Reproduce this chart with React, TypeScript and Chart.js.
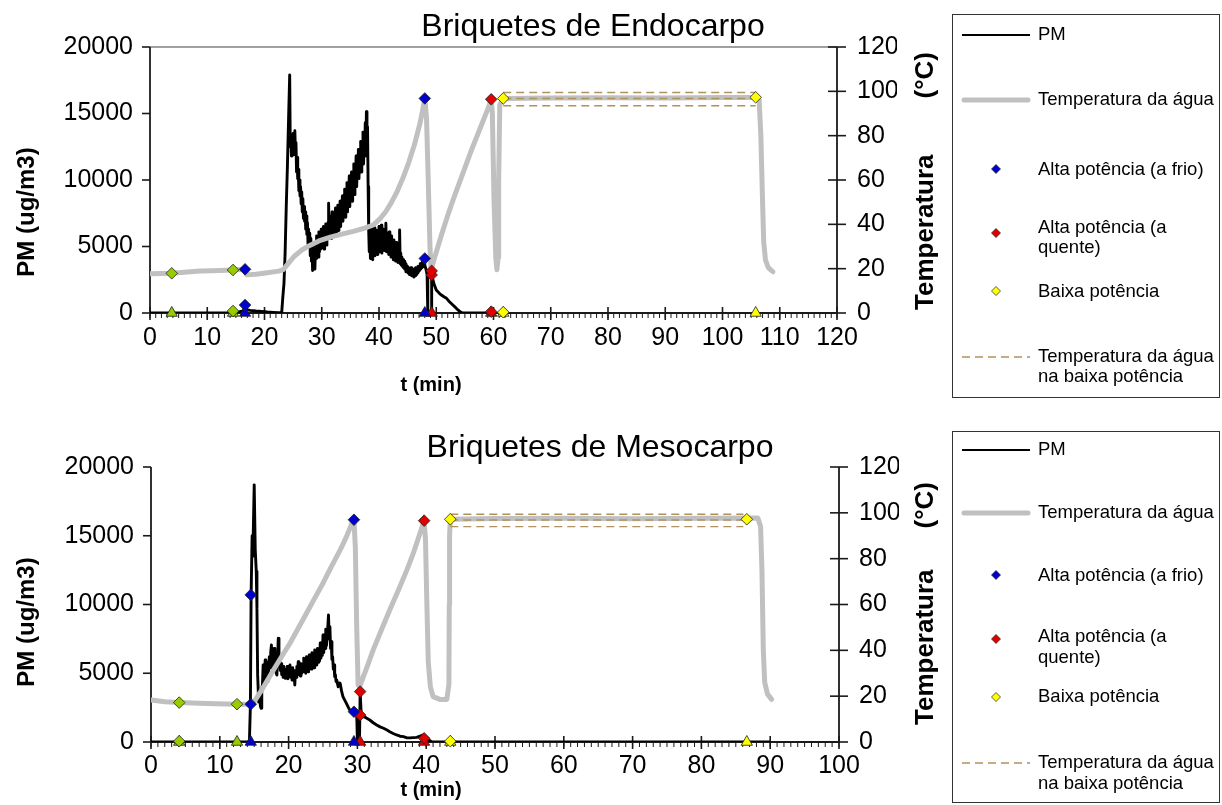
import React, { useEffect, useRef } from "react";
import { Chart, registerables } from "chart.js";

Chart.register(...registerables);

// ================= DATA : Briquetes de Endocarpo =================
const endoTitle = "Briquetes de Endocarpo";
const endoTimeTicks = [0, 10, 20, 30, 40, 50, 60, 70, 80, 90, 100, 110, 120];
const pmTicks = [0, 5000, 10000, 15000, 20000];
const tempTicks = [0, 20, 40, 60, 80, 100, 120];

// PM (ug/m3) vs t (min)
const endoPm: [number, number][] = [
  [0, 0], [14.0, 0], [14.5, 100], [15.5, 80], [16.3, 150], [16.6, 600], [16.9, 250], [17.5, 200],
  [18.5, 150], [19.5, 120], [20.5, 80], [21.5, 50], [22.5, 20], [23.0, 0], [23.2, 1200], [23.4, 2200],
  [23.6, 4500], [23.8, 8000], [24.0, 11000], [24.2, 14500], [24.4, 17900],
  [24.5, 12500], [24.6, 13400], [24.7, 11800], [24.8, 12900], [24.9, 12300], [25.0, 13500], [25.1, 11900],
  [25.2, 13100], [25.3, 13700], [25.4, 12200], [25.5, 12800], [25.6, 10600], [25.7, 11700], [25.8, 10100],
  [25.9, 10800], [26.0, 9200], [26.1, 10000], [26.2, 8800], [26.3, 9500], [26.4, 8200], [26.5, 9100],
  [26.6, 7600], [26.7, 8600], [26.8, 7100], [26.9, 8000], [27.0, 6900], [27.1, 7600], [27.2, 6300],
  [27.3, 7300], [27.4, 5900], [27.5, 6800], [27.6, 5200], [27.7, 6300], [27.8, 4900], [27.9, 6000],
  [28.0, 4300], [28.1, 5600], [28.2, 3900], [28.3, 5100], [28.4, 3200], [28.5, 4700], [28.6, 3600],
  [28.7, 5300], [28.8, 3300], [28.9, 4900], [29.0, 4100], [29.1, 5800], [29.2, 4400], [29.3, 5400],
  [29.4, 4200], [29.5, 6100], [29.6, 4600], [29.7, 5600], [29.8, 4800], [29.9, 6300], [30.0, 4900],
  [30.1, 5700], [30.2, 5200], [30.3, 6500], [30.4, 4800], [30.5, 6000], [30.6, 5300], [30.7, 6700],
  [30.8, 5100], [30.9, 6200], [31.0, 5600], [31.1, 6800], [31.2, 8250], [31.3, 5700], [31.4, 7300],
  [31.5, 5900], [31.6, 6700], [31.7, 5600], [31.8, 7600], [31.9, 6100], [32.0, 6900], [32.1, 5800],
  [32.2, 7400], [32.3, 6300], [32.4, 7900], [32.5, 6000], [32.6, 7200], [32.7, 6500], [32.8, 8100],
  [32.9, 6200], [33.0, 7500], [33.1, 6800], [33.2, 8400], [33.3, 6500], [33.4, 7900], [33.5, 7000],
  [33.6, 8800], [33.7, 6900], [33.8, 8300], [33.9, 7400], [34.0, 9300], [34.1, 7200], [34.2, 8700],
  [34.3, 7800], [34.4, 9800], [34.5, 7600], [34.6, 9100], [34.7, 8200], [34.8, 10300], [34.9, 8000],
  [35.0, 9600], [35.1, 8700], [35.2, 10600], [35.3, 8400], [35.4, 10100], [35.5, 9200], [35.6, 11200],
  [35.7, 8900], [35.8, 10600], [35.9, 9700], [36.0, 11800], [36.1, 9500], [36.2, 11100], [36.3, 10300],
  [36.4, 12300], [36.5, 10100], [36.6, 11700], [36.7, 10800], [36.8, 12900], [36.9, 10600], [37.0, 12300],
  [37.1, 11400], [37.2, 13600], [37.3, 11200], [37.4, 13000], [37.5, 12000], [37.6, 14300], [37.7, 11800],
  [37.8, 15140], [37.9, 12600], [38.0, 14000], [38.1, 9500], [38.2, 6200], [38.3, 4600], [38.4, 6500],
  [38.5, 4100], [38.6, 5800], [38.7, 4500], [38.8, 6300], [38.9, 4000], [39.0, 5600], [39.1, 4700],
  [39.2, 6400], [39.3, 4300], [39.4, 5900], [39.5, 4800], [39.6, 6200], [39.7, 4400], [39.8, 5700],
  [39.9, 4900], [40.0, 6500], [40.1, 4600], [40.2, 5500], [40.3, 4800], [40.4, 6600], [40.5, 4500],
  [40.6, 5900], [40.7, 5000], [40.8, 6300], [40.9, 4700], [41.0, 5600], [41.1, 5100], [41.2, 6750],
  [41.3, 4600], [41.4, 6000], [41.5, 4800], [41.6, 5500], [41.7, 4400], [41.8, 6100], [41.9, 4600],
  [42.0, 5300], [42.1, 4200], [42.2, 5800], [42.3, 4500], [42.4, 5100], [42.5, 4000], [42.6, 5500],
  [42.7, 4300], [42.8, 4900], [42.9, 3900], [43.0, 5300], [43.1, 4100], [43.2, 4700], [43.3, 3800],
  [43.4, 5000], [43.5, 3900], [43.6, 6240], [43.7, 3700], [43.8, 4500], [43.9, 3600], [44.0, 4200],
  [44.1, 3500], [44.2, 4000], [44.3, 3400], [44.4, 3900], [44.5, 3300], [44.6, 3700], [44.7, 3100],
  [44.8, 3600], [44.9, 3200], [45.0, 3500], [45.1, 3000], [45.2, 3400], [45.3, 2900], [45.4, 3300],
  [45.5, 3100], [45.6, 3400], [45.7, 2800], [45.8, 3200], [45.9, 2900], [46.0, 3300], [46.1, 2700],
  [46.2, 3100], [46.3, 2800], [46.4, 3400], [46.5, 2900], [46.6, 3200], [46.7, 3000], [46.8, 3500],
  [46.9, 3100], [47.0, 3400], [47.1, 3200], [47.2, 3700], [47.3, 3300], [47.4, 3600], [47.5, 3400],
  [47.6, 3900], [47.7, 3500], [47.8, 3800], [47.9, 4100], [48.0, 3600], [48.2, 3300], [48.4, 2900],
  [48.5, 2700], [48.55, 0], [49.1, 0], [49.2, 3100], [49.35, 2600], [49.6, 2200], [50.0, 1730],
  [50.5, 1500], [50.9, 1350], [51.4, 1200], [51.8, 1100], [52.3, 850], [52.9, 600], [53.4, 400],
  [53.8, 230], [54.2, 80], [54.6, 0], [60.0, 0],
];

// Temperatura da água (°C) vs t (min)
const endoTemp: [number, number][] = [
  [0, 17.7], [2, 17.8], [3.8, 17.9], [6, 18.4], [8.7, 18.9], [11, 19.1], [14.5, 19.4], [16.6, 19.7],
  [16.9, 17.2], [18.5, 17.5], [20.5, 18.2], [22.5, 18.9], [23.3, 19.6], [24.2, 22.5], [25.2, 25.6],
  [26.5, 28.4], [28, 30.6], [29.5, 32.5], [31.5, 34.2], [33.5, 35.6], [35.5, 36.8], [37.5, 38.3],
  [39, 39.7], [40.2, 42.6], [41.2, 45.8], [42.2, 50.0], [43.2, 55.0], [44.2, 61.0], [45.2, 68.0],
  [46.2, 76.0], [47.2, 86.0], [47.7, 92.5], [48.0, 96.8], [48.3, 88], [48.6, 60], [48.9, 30],
  [49.1, 19.5], [49.6, 24], [50.3, 30], [51, 36], [52, 44], [53, 51.5], [54, 58.5], [55, 65.5],
  [56, 72.5], [57, 79], [58, 85.5], [59, 92], [59.6, 96.4], [59.8, 90], [60.1, 50], [60.4, 25],
  [60.6, 19.5], [60.8, 25], [60.9, 60], [61.1, 94], [61.7, 96.8], [70, 97.0], [80, 97.1], [90, 97.0],
  [100, 97.2], [105.8, 97.2], [106.4, 96.0], [106.7, 80], [107.0, 50], [107.2, 32], [107.5, 24],
  [108.0, 20.5], [108.8, 18.6],
];

// event markers (diamonds on curves, triangles on the time axis)
const endoGreenTemp: [number, number][] = [[3.8, 17.9], [14.5, 19.4]];
const endoGreenPm: [number, number][] = [[14.5, 150]];
const endoGreenAxis = [3.8, 14.5];
const endoBlueTemp: [number, number][] = [[16.6, 19.7], [48.0, 96.8]];
const endoBluePm: [number, number][] = [[16.6, 600], [48.0, 4100]];
const endoBlueAxis = [16.6, 48.0];
const endoRedTemp: [number, number][] = [[49.2, 19.0], [59.6, 96.4]];
const endoRedPm: [number, number][] = [[49.2, 2860], [59.6, 100]];
const endoRedAxis = [49.2, 59.6];
const endoYellowTemp: [number, number][] = [[61.7, 96.8], [105.8, 97.3]];
const endoYellowPm: [number, number][] = [[61.7, 60]];
const endoYellowAxis = [61.7, 105.8];
// low-power water temperature band
const endoLowTime = [61.7, 105.8];
const endoLowBand = [99.5, 96.8, 93.5];

// ================= DATA : Briquetes de Mesocarpo =================
const mesoTitle = "Briquetes de Mesocarpo";
const mesoTimeTicks = [0, 10, 20, 30, 40, 50, 60, 70, 80, 90, 100];

const mesoPm: [number, number][] = [
  [0, 0], [14.3, 0], [14.45, 2700], [14.55, 10700], [14.7, 15000], [14.8, 13500], [15.0, 18700],
  [15.15, 14000], [15.3, 12400], [15.4, 9700], [15.5, 4900], [15.65, 2900], [15.8, 3400], [15.9, 2600],
  [16.0, 2450], [16.1, 3800], [16.2, 4200], [16.3, 5600], [16.4, 4500], [16.5, 5200], [16.6, 5960],
  [16.7, 4700], [16.8, 5500], [16.9, 4400], [17.0, 5800], [17.1, 5000], [17.2, 6200], [17.3, 5400],
  [17.4, 6500], [17.5, 7050], [17.6, 5700], [17.7, 6300], [17.8, 5300], [17.9, 6800], [18.0, 5600],
  [18.1, 5900], [18.2, 5000], [18.3, 4870], [18.4, 6200], [18.5, 7540], [18.6, 5800], [18.7, 6100],
  [18.8, 5200], [18.9, 5700], [19.0, 4900], [19.1, 5400], [19.2, 4700], [19.3, 5500], [19.4, 4800],
  [19.5, 4630], [19.6, 5300], [19.7, 4900], [19.8, 5500], [19.9, 4600], [20.0, 5200], [20.1, 4800],
  [20.2, 5600], [20.3, 4700], [20.4, 5100], [20.5, 4500], [20.6, 5400], [20.7, 4600], [20.8, 5000],
  [20.9, 4150], [21.0, 5200], [21.1, 4700], [21.2, 5500], [21.3, 5000], [21.4, 5840], [21.5, 4900],
  [21.6, 5400], [21.7, 4800], [21.8, 5700], [21.9, 5000], [22.0, 5500], [22.1, 5100], [22.2, 6090],
  [22.3, 5200], [22.4, 5800], [22.5, 5000], [22.6, 6200], [22.7, 5300], [22.8, 5900], [22.9, 5100],
  [23.0, 6330], [23.1, 5400], [23.2, 6000], [23.3, 5300], [23.4, 6500], [23.5, 5500], [23.6, 6100],
  [23.7, 5400], [23.8, 6700], [23.9, 5700], [24.0, 6300], [24.1, 5600], [24.2, 6810], [24.3, 5800],
  [24.4, 6500], [24.5, 5900], [24.6, 7200], [24.7, 6100], [24.8, 6800], [24.9, 6300], [25.0, 7780],
  [25.1, 6500], [25.2, 7300], [25.3, 6800], [25.4, 8200], [25.5, 7000], [25.6, 7600], [25.7, 8400],
  [25.8, 9240], [25.9, 7500], [26.0, 8390], [26.1, 6800], [26.2, 7300], [26.3, 6000], [26.4, 6200],
  [26.5, 5300], [26.6, 5600], [26.7, 4750], [26.8, 4900], [26.9, 4390], [27.0, 4500], [27.2, 4020],
  [27.4, 4300], [27.5, 4260], [27.7, 3700], [27.9, 3300], [28.1, 3100], [28.4, 2810], [28.7, 2500],
  [28.9, 2330], [29.2, 2250], [29.5, 2200], [29.8, 2100], [29.9, 2050], [30.0, 0], [30.3, 0],
  [30.4, 3600], [30.55, 2100], [30.9, 1840], [31.3, 1750], [31.8, 1600], [32.3, 1400], [32.8, 1240],
  [33.3, 1100], [33.8, 1000], [34.3, 870], [34.7, 750], [35.2, 620], [35.7, 510], [36.2, 420],
  [36.7, 390], [37.2, 300], [37.6, 300], [38.1, 320], [38.6, 340], [39.1, 420], [39.6, 510],
  [40.0, 320], [40.4, 150], [40.8, 0], [50, 0], [60, 0], [70, 0], [80, 0], [90, 0],
];

const mesoTemp: [number, number][] = [
  [0, 18.3], [2, 17.6], [4.1, 17.2], [8, 16.8], [12.5, 16.5], [14.5, 16.5], [15.2, 18.5], [15.8, 21.3],
  [16.8, 26.3], [17.8, 31.4], [19, 37.3], [20.2, 43.1], [21.4, 49.6], [22.6, 56.2], [23.8, 62.8],
  [25.0, 69.3], [26.2, 76.4], [27.5, 83.8], [28.4, 89.5], [29.2, 95.5], [29.5, 97.0], [29.7, 85],
  [29.9, 50], [30.1, 25], [30.3, 24], [30.8, 28], [31.5, 33.5], [32.3, 40.2], [33.5, 49], [34.7, 57.6],
  [36.0, 66.5], [37.2, 75.1], [38.2, 83], [39.1, 91.1], [39.7, 96.6], [39.9, 88], [40.1, 60],
  [40.3, 35], [40.6, 24.2], [41.0, 19.8], [42.0, 18.6], [43.0, 18.6], [43.3, 25], [43.35, 60],
  [43.4, 90], [43.5, 97.2], [50, 97.5], [60, 97.6], [70, 97.4], [80, 97.6], [88.2, 97.7], [88.6, 94],
  [88.8, 75], [89.0, 40], [89.2, 26], [89.6, 21], [90.2, 18.6],
];

const mesoGreenTemp: [number, number][] = [[4.1, 17.2], [12.5, 16.5]];
const mesoGreenPm: [number, number][] = [[4.1, 60]];
const mesoGreenAxis = [4.1, 12.5];
const mesoBlueTemp: [number, number][] = [[14.5, 16.5], [29.5, 97.0]];
const mesoBluePm: [number, number][] = [[14.5, 10700], [29.5, 2200]];
const mesoBlueAxis = [14.5, 29.5];
const mesoRedTemp: [number, number][] = [[30.4, 22.0], [39.7, 96.6]];
const mesoRedPm: [number, number][] = [[30.4, 1960], [39.7, 270]];
const mesoRedAxis = [30.4, 39.7];
const mesoYellowTemp: [number, number][] = [[43.5, 97.2], [86.6, 97.2]];
const mesoYellowPm: [number, number][] = [[43.5, 60]];
const mesoYellowAxis = [43.5, 86.6];
const mesoLowTime = [43.5, 86.1];
const mesoLowBand = [99.4, 96.9, 94.0];

// ================= TEXT =================
const xTitle = "t (min)";
const yTitle = "PM (ug/m3)";
const y2TitleMain = "Temperatura";
const y2TitleUnit = "(°C)";
const legendLabels = [
  ["PM"],
  ["Temperatura da água"],
  ["Alta potência (a frio)"],
  ["Alta potência (a", "quente)"],
  ["Baixa potência"],
  ["Temperatura da água", "na baixa potência"],
];

// ================= STYLE =================
const FONT = '"Liberation Sans", Arial, Helvetica, sans-serif';
const C = {
  blue: "#0000CC",
  red: "#E00000",
  yellow: "#FFFF00",
  green: "#99CC00",
  temp: "#C0C0C0",
  pm: "#000000",
  dash: "#B0925C",
  axis: "#1a1a1a",
};

const pts = (p: [number, number][]) => p.map(([x, y]) => ({ x, y }));
const onAxis = (t: number[]) => t.map((x) => ({ x, y: 0 }));

function markers(data: { x: number; y: number }[], color: string, axis: string, style: string) {
  return {
    type: "line",
    data,
    yAxisID: axis,
    showLine: false,
    pointStyle: style,
    pointRadius: style === "triangle" ? 6.5 : 5.8,
    pointBackgroundColor: color,
    pointBorderColor: "#202020",
    pointBorderWidth: 0.8,
    clip: false,
    order: 0,
  };
}

function line(ctx: CanvasRenderingContext2D, x1: number, y1: number, x2: number, y2: number) {
  ctx.beginPath();
  ctx.moveTo(x1, y1);
  ctx.lineTo(x2, y2);
  ctx.stroke();
}

function diamond(ctx: CanvasRenderingContext2D, x: number, y: number, r: number, fill: string) {
  ctx.beginPath();
  ctx.moveTo(x, y - r);
  ctx.lineTo(x + r, y);
  ctx.lineTo(x, y + r);
  ctx.lineTo(x - r, y);
  ctx.closePath();
  ctx.fillStyle = fill;
  ctx.fill();
  ctx.strokeStyle = "#202020";
  ctx.lineWidth = 0.7;
  ctx.stroke();
}

const decorPlugin = {
  id: "decor",
  beforeDatasetsDraw(chart: any, _a: any, o: any) {
    const { ctx, chartArea: ca, scales } = chart;
    const xs = scales.x;
    const ys = scales.y;
    const ts = scales.y2;
    ctx.save();
    if (o.topBorder) {
      ctx.strokeStyle = "#808080";
      ctx.lineWidth = 1.5;
      line(ctx, ca.left, ca.top, ca.right, ca.top);
    }
    ctx.strokeStyle = C.axis;
    ctx.lineWidth = 1.8;
    line(ctx, ca.left, ca.bottom, ca.right, ca.bottom);
    line(ctx, ca.left, ca.top, ca.left, ca.bottom);
    line(ctx, ca.right, ca.top, ca.right, ca.bottom);
    // minor ticks on the time axis
    ctx.lineWidth = 1;
    for (let v = xs.min; v <= xs.max; v += 1) {
      const px = xs.getPixelForValue(v);
      line(ctx, px, ca.bottom, px, ca.bottom + 5);
    }
    ctx.lineWidth = 1.6;
    xs.ticks.forEach((tk: any) => {
      const px = xs.getPixelForValue(tk.value);
      line(ctx, px, ca.bottom - 6, px, ca.bottom + 7);
    });
    ys.ticks.forEach((tk: any) => {
      const py = ys.getPixelForValue(tk.value);
      line(ctx, ca.left - 8, py, ca.left, py);
    });
    ts.ticks.forEach((tk: any) => {
      const py = ts.getPixelForValue(tk.value);
      line(ctx, ca.right - 9, py, ca.right + 9, py);
    });
    ctx.restore();
  },
  afterDraw(chart: any, _a: any, o: any) {
    const { ctx } = chart;
    ctx.save();
    ctx.fillStyle = "#000";
    ctx.textBaseline = "middle";
    // chart title
    ctx.textAlign = "center";
    ctx.font = `32px ${FONT}`;
    ctx.fillText(o.title, o.titleX, o.titleY);
    // x title
    ctx.font = `bold 20px ${FONT}`;
    ctx.fillText(xTitle, o.xTitleX, o.xTitleY);
    // left y title
    ctx.save();
    ctx.translate(o.yTitleX, o.yTitleY);
    ctx.rotate(-Math.PI / 2);
    ctx.font = `bold 24px ${FONT}`;
    ctx.fillText(yTitle, 0, 0);
    ctx.restore();
    // right y title (two parts, read bottom-to-top)
    ctx.save();
    ctx.translate(o.y2TitleX, 0);
    ctx.rotate(-Math.PI / 2);
    ctx.font = `bold 26px ${FONT}`;
    ctx.textAlign = "left";
    ctx.fillText(y2TitleMain, -o.y2MainStart, 0);
    ctx.textAlign = "right";
    ctx.fillText(y2TitleUnit, -o.y2UnitEnd, 0);
    ctx.restore();

    // legend
    const L = o.legend;
    ctx.strokeStyle = "#333";
    ctx.lineWidth = 1;
    ctx.strokeRect(L.x + 0.5, L.y + 0.5, L.w, L.h);
    const sx1 = L.x + 10;
    const sx2 = L.x + 78;
    const mx = L.x + 44;
    const tx = L.x + 86;
    ctx.font = `18.5px ${FONT}`;
    ctx.textAlign = "left";
    const rows = L.rows;
    ctx.strokeStyle = C.pm;
    ctx.lineWidth = 2;
    line(ctx, sx1, rows[0].sym, sx2, rows[0].sym);
    ctx.strokeStyle = C.temp;
    ctx.lineWidth = 5;
    ctx.lineCap = "round";
    line(ctx, sx1 + 2, rows[1].sym, sx2 - 2, rows[1].sym);
    ctx.lineCap = "butt";
    diamond(ctx, mx, rows[2].sym, 4.5, C.blue);
    diamond(ctx, mx, rows[3].sym, 4.5, C.red);
    diamond(ctx, mx, rows[4].sym, 4.5, C.yellow);
    ctx.strokeStyle = C.dash;
    ctx.lineWidth = 1.3;
    ctx.setLineDash([8, 5]);
    line(ctx, sx1, rows[5].sym, sx2, rows[5].sym);
    ctx.setLineDash([]);
    ctx.fillStyle = "#000";
    legendLabels.forEach((lbl, i) => {
      lbl.forEach((s, j) => ctx.fillText(s, tx, rows[i].text + j * L.lineGap));
    });
    ctx.restore();
  },
};

interface Spec {
  pm: [number, number][];
  temp: [number, number][];
  greenTemp: [number, number][];
  greenPm: [number, number][];
  greenAxis: number[];
  blueTemp: [number, number][];
  bluePm: [number, number][];
  blueAxis: number[];
  redTemp: [number, number][];
  redPm: [number, number][];
  redAxis: number[];
  yellowTemp: [number, number][];
  yellowPm: [number, number][];
  yellowAxis: number[];
  lowTime: number[];
  lowBand: number[];
  timeTicks: number[];
  xMax: number;
  layout: any;
  decor: any;
}

function buildConfig(s: Spec): any {
  const datasets: any[] = [
    markers(pts(s.greenTemp), C.green, "y2", "rectRot"),
    markers(pts(s.greenPm), C.green, "y", "rectRot"),
    markers(onAxis(s.greenAxis), C.green, "y", "triangle"),
    markers(pts(s.blueTemp), C.blue, "y2", "rectRot"),
    markers(pts(s.bluePm), C.blue, "y", "rectRot"),
    markers(onAxis(s.blueAxis), C.blue, "y", "triangle"),
    markers(pts(s.redTemp), C.red, "y2", "rectRot"),
    markers(pts(s.redPm), C.red, "y", "rectRot"),
    markers(onAxis(s.redAxis), C.red, "y", "triangle"),
    markers(pts(s.yellowTemp), C.yellow, "y2", "rectRot"),
    markers(pts(s.yellowPm), C.yellow, "y", "rectRot"),
    markers(onAxis(s.yellowAxis), C.yellow, "y", "triangle"),
    ...s.lowBand.map((v) => ({
      type: "line",
      data: s.lowTime.map((t) => ({ x: t, y: v })),
      yAxisID: "y2",
      borderColor: C.dash,
      borderWidth: 1.4,
      borderDash: [8, 5],
      pointRadius: 0,
      order: 1,
    })),
    {
      type: "line",
      data: pts(s.temp),
      yAxisID: "y2",
      borderColor: C.temp,
      borderWidth: 5,
      borderJoinStyle: "round",
      borderCapStyle: "round",
      pointRadius: 0,
      tension: 0,
      order: 2,
    },
    {
      type: "line",
      data: pts(s.pm),
      yAxisID: "y",
      borderColor: C.pm,
      borderWidth: 2.9,
      borderJoinStyle: "round",
      pointRadius: 0,
      tension: 0,
      order: 3,
    },
  ];
  const L = s.layout;
  const tickFont = { family: FONT, size: 25 };
  return {
    type: "line",
    data: { datasets },
    plugins: [decorPlugin],
    options: {
      animation: false,
      responsive: false,
      events: [],
      layout: {
        autoPadding: false,
        padding: { left: 0, top: L.top, right: L.padRight, bottom: L.padBottom },
      },
      plugins: {
        legend: { display: false },
        tooltip: { enabled: false },
        title: { display: false },
        decor: s.decor,
      },
      scales: {
        x: {
          type: "linear",
          position: "bottom",
          min: 0,
          max: s.xMax,
          afterBuildTicks: (sc: any) => {
            sc.ticks = s.timeTicks.map((v) => ({ value: v }));
          },
          afterFit: (sc: any) => {
            sc.height = L.xHeight;
          },
          ticks: {
            autoSkip: false,
            maxRotation: 0,
            font: tickFont,
            color: "#000",
            padding: L.xPad,
            callback: (v: number) => String(v),
          },
          grid: { display: false, drawTicks: false },
          border: { display: false },
        },
        y: {
          type: "linear",
          position: "left",
          min: 0,
          max: 20000,
          afterBuildTicks: (sc: any) => {
            sc.ticks = pmTicks.map((v) => ({ value: v }));
          },
          afterFit: (sc: any) => {
            sc.width = L.left;
          },
          ticks: { font: tickFont, color: "#000", padding: 17, callback: (v: number) => String(v) },
          grid: { display: false, drawTicks: false },
          border: { display: false },
        },
        y2: {
          type: "linear",
          position: "right",
          min: 0,
          max: 120,
          afterBuildTicks: (sc: any) => {
            sc.ticks = tempTicks.map((v) => ({ value: v }));
          },
          afterFit: (sc: any) => {
            sc.width = 60;
          },
          ticks: { font: tickFont, color: "#000", padding: 20, callback: (v: number) => String(v) },
          grid: { display: false, drawTicks: false },
          border: { display: false },
        },
      },
    },
  };
}

const endoSpec = (): Spec => ({
  pm: endoPm,
  temp: endoTemp,
  greenTemp: endoGreenTemp,
  greenPm: endoGreenPm,
  greenAxis: endoGreenAxis,
  blueTemp: endoBlueTemp,
  bluePm: endoBluePm,
  blueAxis: endoBlueAxis,
  redTemp: endoRedTemp,
  redPm: endoRedPm,
  redAxis: endoRedAxis,
  yellowTemp: endoYellowTemp,
  yellowPm: endoYellowPm,
  yellowAxis: endoYellowAxis,
  lowTime: endoLowTime,
  lowBand: endoLowBand,
  timeTicks: endoTimeTicks,
  xMax: 120,
  layout: { top: 47, left: 150, padRight: 1222 - 837 - 60, xHeight: 60, padBottom: 410 - 313 - 60, xPad: 10 },
  decor: {
    topBorder: true,
    title: endoTitle,
    titleX: 593,
    titleY: 27,
    xTitleX: 431,
    xTitleY: 385,
    yTitleX: 27,
    yTitleY: 212,
    y2TitleX: 926,
    y2MainStart: 310,
    y2UnitEnd: 52,
    legend: {
      x: 952,
      y: 14,
      w: 267,
      h: 383,
      lineGap: 20,
      rows: [
        { sym: 35, text: 35 },
        { sym: 100, text: 100 },
        { sym: 169, text: 170 },
        { sym: 233, text: 228 },
        { sym: 291, text: 292 },
        { sym: 357, text: 357 },
      ],
    },
  },
});

const mesoSpec = (): Spec => ({
  pm: mesoPm,
  temp: mesoTemp,
  greenTemp: mesoGreenTemp,
  greenPm: mesoGreenPm,
  greenAxis: mesoGreenAxis,
  blueTemp: mesoBlueTemp,
  bluePm: mesoBluePm,
  blueAxis: mesoBlueAxis,
  redTemp: mesoRedTemp,
  redPm: mesoRedPm,
  redAxis: mesoRedAxis,
  yellowTemp: mesoYellowTemp,
  yellowPm: mesoYellowPm,
  yellowAxis: mesoYellowAxis,
  lowTime: mesoLowTime,
  lowBand: mesoLowBand,
  timeTicks: mesoTimeTicks,
  xMax: 100,
  layout: { top: 57, left: 151, padRight: 1222 - 839 - 60, xHeight: 40, padBottom: 395 - 332 - 40, xPad: 9 },
  decor: {
    topBorder: false,
    title: mesoTitle,
    titleX: 600,
    titleY: 38,
    xTitleX: 431,
    xTitleY: 380,
    yTitleX: 27,
    yTitleY: 212,
    y2TitleX: 926,
    y2MainStart: 315,
    y2UnitEnd: 72,
    legend: {
      x: 952,
      y: 21,
      w: 267,
      h: 371,
      lineGap: 21,
      rows: [
        { sym: 40, text: 40 },
        { sym: 103, text: 103 },
        { sym: 165, text: 166 },
        { sym: 229, text: 227 },
        { sym: 287, text: 287 },
        { sym: 353, text: 353 },
      ],
    },
  },
});

function ChartPanel({ make, top, height }: { make: () => Spec; top: number; height: number }) {
  const ref = useRef<HTMLCanvasElement | null>(null);
  useEffect(() => {
    if (!ref.current) return;
    const chart = new Chart(ref.current, buildConfig(make()));
    return () => chart.destroy();
  }, [make]);
  return (
    <canvas
      ref={ref}
      width={1222}
      height={height}
      style={{ position: "absolute", left: 0, top, width: 1222, height, display: "block" }}
    />
  );
}

export default function App() {
  return (
    <div style={{ position: "absolute", left: 0, top: 0, width: 1222, height: 805, background: "#fff", overflow: "hidden" }}>
      <ChartPanel make={endoSpec} top={0} height={410} />
      <ChartPanel make={mesoSpec} top={410} height={395} />
    </div>
  );
}
